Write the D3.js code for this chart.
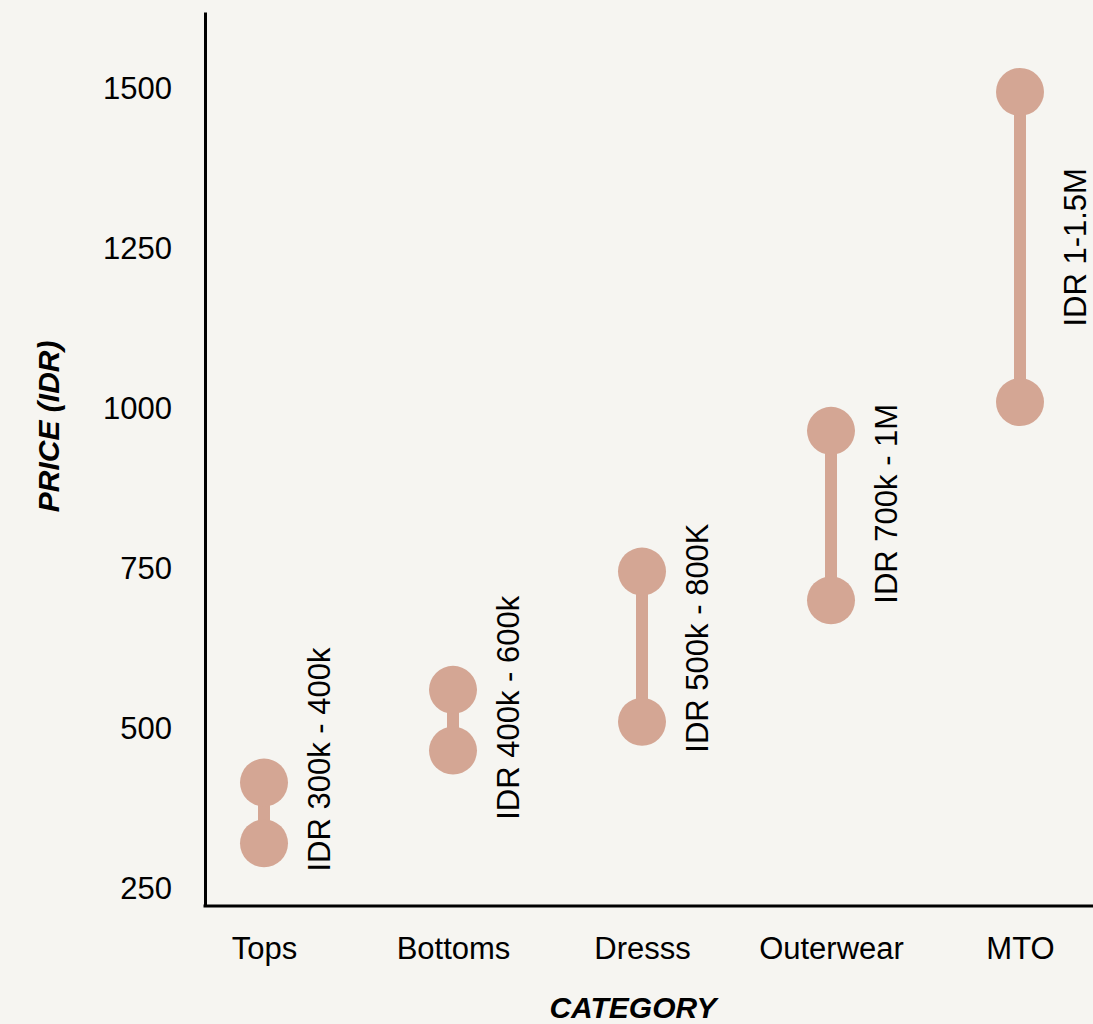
<!DOCTYPE html>
<html>
<head>
<meta charset="utf-8">
<script src="https://cdn.jsdelivr.net/npm/d3@7"></script>
<style>
  html, body { margin: 0; padding: 0; background: #f6f5f1; }
  svg { display: block; font-family: "Liberation Sans", Arial, sans-serif; }
</style>
</head>
<body>
<svg id="chart"></svg>
<script>
// data (price in thousand IDR)
const categories = ["Tops", "Bottoms", "Dresss", "Outerwear", "MTO"];
const lowPrice = [320, 465, 510, 700, 1010];
const highPrice = [415, 560, 745, 965, 1495];
const rangeLabels = ["IDR 300k - 400k", "IDR 400k - 600k", "IDR 500k - 800K", "IDR 700k - 1M", "IDR 1-1.5M"];
const labelAt = [451, 532, 641, 851, 1252];
const yTicks = [250, 500, 750, 1000, 1250, 1500];

const width = 1093, height = 1024;
const margin = {top: 12, right: 0, bottom: 118, left: 205};
const dotColor = "#d4a694";
const dotR = 24;

const svg = d3.select("#chart")
    .attr("width", width)
    .attr("height", height);

svg.append("rect")
    .attr("width", width)
    .attr("height", height)
    .attr("fill", "#f6f5f1");

const xScale = d3.scalePoint()
    .domain(categories)
    .range([264, 1020]);

const yScale = d3.scaleLinear()
    .domain([222, 1620])
    .range([height - margin.bottom, margin.top]);

const rows = categories.map((c, i) => ({
    cat: c,
    low: lowPrice[i],
    high: highPrice[i],
    label: rangeLabels[i],
    labelAt: labelAt[i]
}));

// y axis
const yAxis_g = svg.append("g")
    .attr("transform", `translate(${margin.left}, 0)`)
    .call(d3.axisLeft(yScale).tickValues(yTicks).tickFormat(d3.format("d"))
        .tickSize(0).tickSizeOuter(0).tickPadding(33));
yAxis_g.select(".domain").attr("stroke", "#000").attr("stroke-width", 3);
yAxis_g.selectAll("text")
    .attr("font-size", 31)
    .attr("font-family", "Liberation Sans, Arial, sans-serif")
    .attr("fill", "#000");

// x axis
const xAxis_g = svg.append("g")
    .attr("transform", `translate(0, ${height - margin.bottom})`)
    .call(d3.axisBottom(xScale).tickSize(0).tickPadding(31));
xAxis_g.select(".domain").remove();
xAxis_g.selectAll("text")
    .attr("font-size", 31)
    .attr("font-family", "Liberation Sans, Arial, sans-serif")
    .attr("fill", "#000");
xAxis_g.append("line")
    .attr("x1", margin.left - 1.5)
    .attr("x2", width)
    .attr("y1", 0)
    .attr("y2", 0)
    .attr("stroke", "#000")
    .attr("stroke-width", 3);

// axis titles
svg.append("text")
    .attr("transform", `translate(59, ${yScale(750) - 142}) rotate(-90)`)
    .attr("text-anchor", "middle")
    .attr("font-size", 30)
    .attr("font-weight", "bold")
    .attr("font-style", "italic")
    .text("PRICE (IDR)");

svg.append("text")
    .attr("x", 633)
    .attr("y", 1018)
    .attr("text-anchor", "middle")
    .attr("font-size", 30)
    .attr("font-weight", "bold")
    .attr("font-style", "italic")
    .text("CATEGORY");

// dumbbells
const bell_g = svg.append("g")
    .selectAll("g")
    .data(rows)
    .join("g")
    .attr("transform", d => `translate(${xScale(d.cat)}, 0)`);

bell_g.append("line")
    .attr("y1", d => yScale(d.low))
    .attr("y2", d => yScale(d.high))
    .attr("stroke", dotColor)
    .attr("stroke-width", 12);

bell_g.selectAll("circle")
    .data(d => [d.low, d.high])
    .join("circle")
    .attr("cy", v => yScale(v))
    .attr("r", dotR)
    .attr("fill", dotColor);

bell_g.append("text")
    .attr("transform", d => `translate(66, ${yScale(d.labelAt)}) rotate(-90)`)
    .attr("text-anchor", "middle")
    .attr("font-size", 31)
    .attr("fill", "#000")
    .text(d => d.label);
</script>
</body>
</html>
